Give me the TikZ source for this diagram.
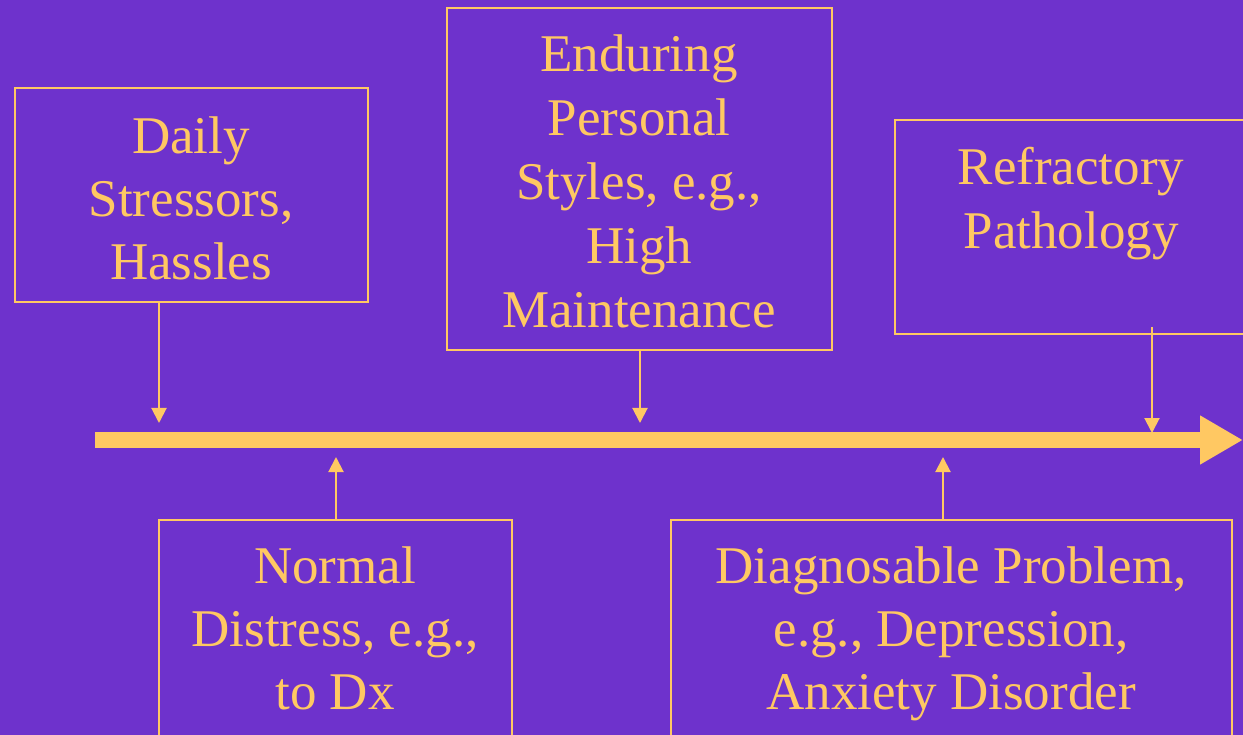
\documentclass[tikz,border=0pt]{standalone}
\usepackage{fontspec}
\setmainfont{Liberation Serif}
\usetikzlibrary{arrows.meta}
\definecolor{bg}{RGB}{110,50,204}
\definecolor{fg}{RGB}{255,200,98}
\tikzset{
  box/.style={draw=fg, line width=2pt, inner sep=0pt},
  txt/.style={text=fg, align=center, inner sep=0pt, font=\fontsize{53}{64}\selectfont},
  txtb/.style={txt, font=\fontsize{53}{63}\selectfont},
  arr/.style={draw=fg, line width=2pt, -{Triangle[length=15pt,width=15pt]}},
}
\begin{document}
\begin{tikzpicture}[x=1pt,y=-1pt]
\useasboundingbox (0,0) rectangle (1243,735);
\clip (0,0) rectangle (1243,735);
\fill[bg] (0,0) rectangle (1243,735);
% boxes
\node[box, minimum width=353pt, minimum height=214pt] (daily) at (191.5,195) {};
\node[box, minimum width=385pt, minimum height=342pt] (endur) at (639.5,179) {};
\node[box, minimum width=352pt, minimum height=214pt] (refr) at (1071,227) {};
\node[box, minimum width=353pt, minimum height=240pt] (norm) at (335.5,640) {};
\node[box, minimum width=561pt, minimum height=240pt] (diag) at (951.5,640) {};
% texts
\node[txtb] (dailyT) at (191,198.5) {Daily\\Stressors,\\Hassles};
\node[txt] (endurT) at (639,181) {Enduring\\Personal\\Styles, e.g.,\\High\\Maintenance};
\node[txt] (refrT) at (1071,203.5) {Refractory\\Pathology};
\node[txtb] (normT) at (335,628.5) {Normal\\Distress, e.g.,\\to Dx};
\node[txtb] (diagT) at (951,633.5) {Diagnosable Problem,\\e.g., Depression,\\Anxiety Disorder};
% timeline
\coordinate (tlA) at (95,440);
\coordinate (tlB) at (1243,440);
\draw[fg, line width=16pt, -{Triangle[length=43pt,width=46pt]}] (tlA) -- (tlB);
% pointers
\coordinate (pA) at (159,423);
\coordinate (pB) at (640,423);
\coordinate (pC) at (1152,433);
\coordinate (pD) at (336,457);
\coordinate (pE) at (943,457);
\draw[arr] (159,302) -- (pA);
\draw[arr] (endur.south -| pB) -- (pB);
\draw[arr] (1152,327) -- (pC);
\draw[arr] (norm.north -| pD) -- (pD);
\draw[arr] (diag.north -| pE) -- (pE);
\end{tikzpicture}
\end{document}
